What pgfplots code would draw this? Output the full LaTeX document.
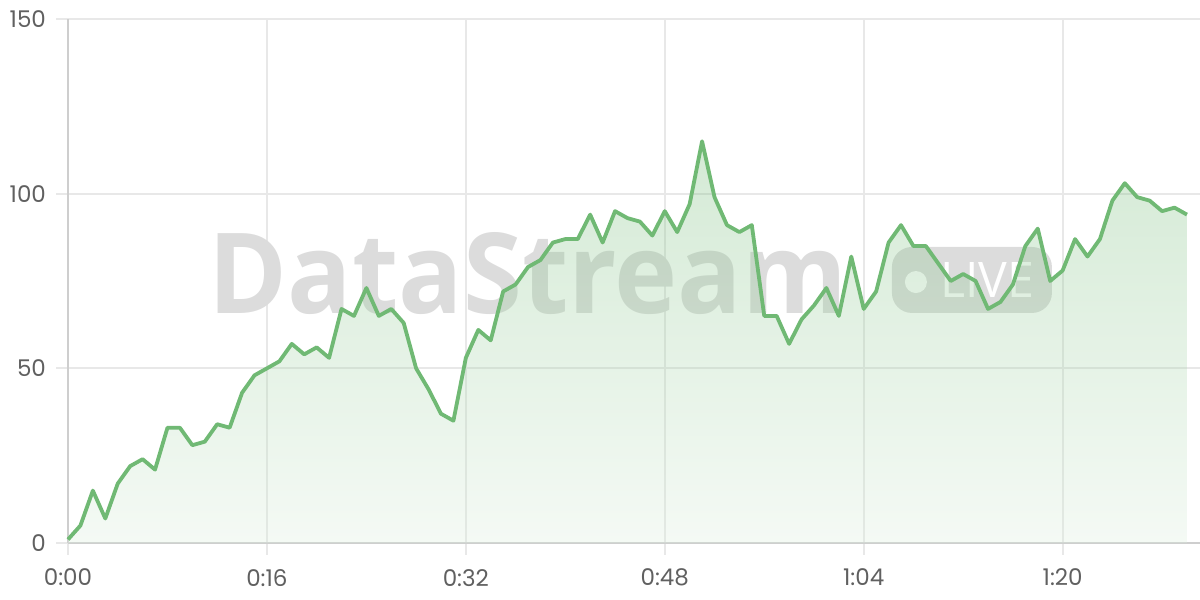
\documentclass[border=0pt]{standalone}
\usepackage{fontspec}
\setmainfont{Poppins}
\newfontfamily\wmfont{Open Sans}
\usepackage{pgfplots}
\pgfplotsset{compat=1.18}
\usepackage{pgfplotstable}
\definecolor{linegreen}{RGB}{112,185,116}
\definecolor{gridc}{RGB}{232,232,232}
\definecolor{axisc}{RGB}{206,206,206}
\definecolor{tickc}{RGB}{96,96,96}
\definecolor{wmgray}{RGB}{220,220,220}
\pgfplotstableread{
t v
0 1
1 5
2 15
3 7
4 17
5 22
6 24
7 21
8 33
9 33
10 28
11 29
12 34
13 33
14 43
15 48
16 50
17 52
18 57
19 54
20 56
21 53
22 67
23 65
24 73
25 65
26 67
27 63
28 50
29 44
30 37
31 35
32 53
33 61
34 58
35 72
36 74
37 79
38 81
39 86
40 87
41 87
42 94
43 86
44 95
45 93
46 92
47 88
48 95
49 89
50 97
51 115
52 99
53 91
54 89
55 91
56 65
57 65
58 57
59 64
60 68
61 73
62 65
63 82
64 67
65 72
66 86
67 91
68 85
69 85
70 80
71 75
72 77
73 75
74 67
75 69
76 74
77 85
78 90
79 75
80 78
81 87
82 82
83 87
84 98
85 103
86 99
87 98
88 95
89 96
90 94
}\datatable
\begin{document}
\begin{tikzpicture}
\path[use as bounding box] (0,0) rectangle (600pt,300pt);
\begin{axis}[
  at={(34pt,28.5pt)}, anchor=south west,
  scale only axis, width=566pt, height=262pt,
  xmin=0, xmax=91.05, ymin=0, ymax=150,
  axis x line*=bottom, axis y line*=left,
  axis line style={draw=axisc, line width=1pt, -},
  xtick={0,16,32,48,64,80},
  xticklabels={0:00,0:16,0:32,0:48,1:04,1:20},
  ytick={0,50,100,150},
  grid=major,
  major grid style={draw=gridc, line width=0.9pt},
  tick align=outside, major tick length=6pt,
  tick style={draw=gridc, line width=0.9pt},
  ticklabel style={font=\fontsize{11.5}{13}\selectfont, text=tickc},
  xticklabel style={yshift=-3.5pt},
  yticklabel style={xshift=-1.5pt},
  /pgf/number format/assume math mode=true,
  clip=false,
]
% watermark
\node[anchor=base west, inner sep=0pt, text=wmgray] at (axis cs:11.3,65.8)
  {\resizebox{319pt}{40.5pt}{\wmfont\bfseries DataStream}};
\fill[wmgray, rounded corners=10pt] (axis cs:66.27,65.85) rectangle (axis cs:79.14,84.74);
\fill[white] (axis cs:68.2,74.7) circle[radius=5.5pt];
\node[anchor=base west, inner sep=0pt, text=white] at (axis cs:70.14,70.14)
  {\resizebox{47pt}{17.5pt}{\wmfont LIVE}};
% area
\addplot[draw=none, shading=axis, top color=linegreen, bottom color=linegreen!25!white, fill opacity=0.3] table[x=t,y=v]{\datatable} \closedcycle;
% line
\addplot[linegreen, line width=1.9pt, line join=round, mark=none] table[x=t,y=v]{\datatable};
\end{axis}
\end{tikzpicture}
\end{document}
